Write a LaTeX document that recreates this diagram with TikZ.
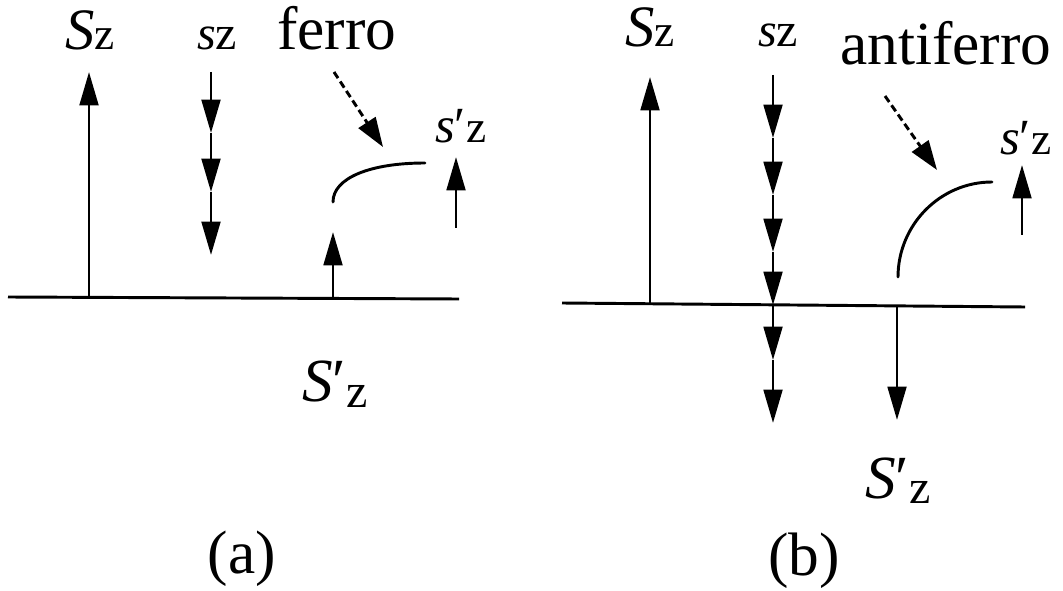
\documentclass[tikz,border=0pt]{standalone}
\usepackage{fontspec}
\usepackage{graphicx}
\setmainfont{Liberation Serif}
\usetikzlibrary{arrows.meta}
\newcommand\FS[1]{\fontsize{#1}{#1}\selectfont}
\begin{document}
\begin{tikzpicture}[x=0.75pt,y=-0.75pt,
  spin/.style={line width=2.2pt,-{Triangle[length=25pt,width=14pt]}},
  plain/.style={line width=2.2pt},
  hint/.style={line width=2.2pt,dash pattern=on 5.5pt off 3pt,-{Triangle[length=22pt,width=15pt]}},
  lbl/.style={inner sep=0pt,anchor=base west},
  caption/.style={inner sep=0pt,anchor=base},
]
\useasboundingbox (0,0) rectangle (1063,591);

% ---------- panel (a) ----------
\coordinate (baL) at (8,297);
\coordinate (baR) at (459,299);
\draw[plain] (baL) -- (baR);

\coordinate (Sa0) at (89,297);
\coordinate (Sa1) at (89,72);
\draw[spin] (Sa0) -- (Sa1);

\coordinate (sa0) at (211,72);
\coordinate (sa1) at (211,133);
\coordinate (sa2) at (211,192);
\coordinate (sa3) at (211,255);
\draw[spin] (sa0) -- (sa1);
\draw[spin] (sa1) -- (sa2);
\draw[spin] (sa2) -- (sa3);

\coordinate (da0) at (334,72);
\coordinate (da1) at (383,147);
\draw[hint] (da0) -- (da1);

\coordinate (ca0) at (333,202);
\coordinate (ca1) at (425,163);
\draw[plain,line cap=round] (ca0) .. controls (333,178) and (370,163) .. (ca1);

\coordinate (Pa0) at (333,298);
\coordinate (Pa1) at (333,232);
\draw[spin] (Pa0) -- (Pa1);

\coordinate (pa0) at (456,228);
\coordinate (pa1) at (456,157);
\draw[spin] (pa0) -- (pa1);

\node[lbl] (Sza) at (65,50) {\FS{44}\textit{S}\FS{34}z};
\node[lbl] (sza) at (197,50) {\FS{36}\textit{s}z};
\node[lbl] (fer) at (277,50) {\FS{46}ferro};
\node[lbl] (spa) at (435,143) {\FS{38}\textit{s}′\FS{34}z};
\node[lbl] (Spa) at (302,402) {\FS{46}\textit{S}′\raisebox{-4pt}{\FS{36}z}};
\node[caption] (capa) at (242,573) {\FS{46}(a)};

% ---------- panel (b) ----------
\coordinate (bbL) at (562,303);
\coordinate (bbR) at (1025,307);
\draw[plain] (bbL) -- (bbR);

\coordinate (Sb0) at (650,304);
\coordinate (Sb1) at (650,77);
\draw[spin] (Sb0) -- (Sb1);

\coordinate (sb0) at (773,75);
\coordinate (sb1) at (773,138);
\coordinate (sb2) at (773,195);
\coordinate (sb3) at (773,252);
\coordinate (sb4) at (773,305);
\coordinate (sb5) at (773,360);
\coordinate (sb6) at (773,423);
\draw[spin] (sb0) -- (sb1);
\draw[spin] (sb1) -- (sb2);
\draw[spin] (sb2) -- (sb3);
\draw[spin] (sb3) -- (sb4);
\draw[spin] (sb4) -- (sb5);
\draw[spin] (sb5) -- (sb6);

\coordinate (db0) at (885,96);
\coordinate (db1) at (937,170);
\draw[hint] (db0) -- (db1);

\coordinate (cb0) at (898,277);
\coordinate (cb1) at (992,182);
\draw[plain,line cap=round] (cb0) .. controls (898,225) and (940,182) .. (cb1);

\coordinate (pb0) at (1022,235);
\coordinate (pb1) at (1022,165);
\draw[spin] (pb0) -- (pb1);

\coordinate (Pb0) at (897,306);
\coordinate (Pb1) at (897,420);
\draw[spin] (Pb0) -- (Pb1);

\node[lbl] (Szb) at (625,47) {\FS{44}\textit{S}\FS{34}z};
\node[lbl] (szb) at (758,47) {\FS{36}\textit{s}z};
\node[lbl] (afer) at (840,65) {\FS{46}antiferro};
\node[lbl] (spb) at (1000,155) {\FS{38}\textit{s}′\FS{34}z};
\node[lbl] (Spb) at (865,498) {\FS{46}\textit{S}′\raisebox{-4pt}{\FS{36}z}};
\node[caption] (capb) at (804,575) {\FS{46}(b)};
\end{tikzpicture}
\end{document}
